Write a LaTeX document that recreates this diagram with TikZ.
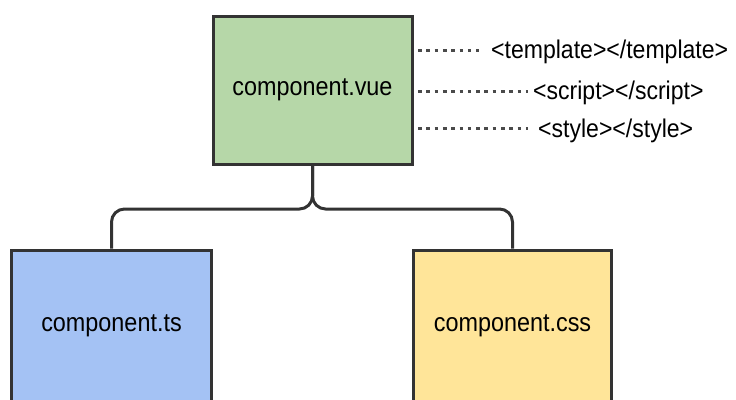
\documentclass[tikz,border=0pt]{standalone}
\usepackage{fontspec}
\setmainfont{Liberation Sans}
\newfontfamily\labelfont[FakeStretch=0.9]{Liberation Sans}
\usetikzlibrary{calc}
\definecolor{vuegreen}{HTML}{B6D7A8}
\definecolor{tsblue}{HTML}{A4C2F4}
\definecolor{cssyellow}{HTML}{FFE599}
\definecolor{edge}{HTML}{333333}
\definecolor{dots}{HTML}{4A4A4A}
\begin{document}
\begin{tikzpicture}[x=1pt,y=-1pt,
  box/.style={draw=edge, line width=3pt, minimum width=199pt, minimum height=148pt,
    inner sep=0pt, font=\labelfont\fontsize{26}{30}\selectfont},
  tag/.style={anchor=west, inner sep=0pt, font=\labelfont\fontsize{25.6}{30}\selectfont},
  dotline/.style={draw=dots, line width=3pt, dash pattern=on 3.6pt off 4.7pt},
  conn/.style={draw=edge, line width=3pt, rounded corners=13pt}]
  \useasboundingbox (0,0) rectangle (736,399);
  \clip (0,0) rectangle (736,399);

  % main single-file component and its two extracted files
  \node[box, fill=vuegreen] (vue) at (312.5,90) {component.vue};
  \node[box, fill=tsblue, minimum width=200pt, minimum height=152pt] (ts) at (111.5,326) {component.ts};
  \node[box, fill=cssyellow, minimum width=198pt, minimum height=152pt] (css) at (512.5,326) {component.css};

  % tree connectors from the .vue file down to the split files
  \coordinate (fork) at (312.5,209);
  \draw[conn] (vue.south) -- (fork) -| (ts.north);
  \draw[conn] (vue.south) -- (fork) -| (css.north);

  % the three blocks of a .vue file
  \node[tag] (tpl) at (491,52) {<template></template>};
  \node[tag] (scr) at (533,93) {<script></script>};
  \node[tag] (sty) at (538,130.5) {<style></style>};

  \coordinate (d1) at (418,50);
  \coordinate (d2) at (418,91);
  \coordinate (d3) at (418,128.5);
  \draw[dotline] (d1) -- ([xshift=-12pt]tpl.west |- d1);
  \draw[dotline] (d2) -- ([xshift=-5pt]scr.west |- d2);
  \draw[dotline] (d3) -- ([xshift=-10pt]sty.west |- d3);
\end{tikzpicture}
\end{document}
